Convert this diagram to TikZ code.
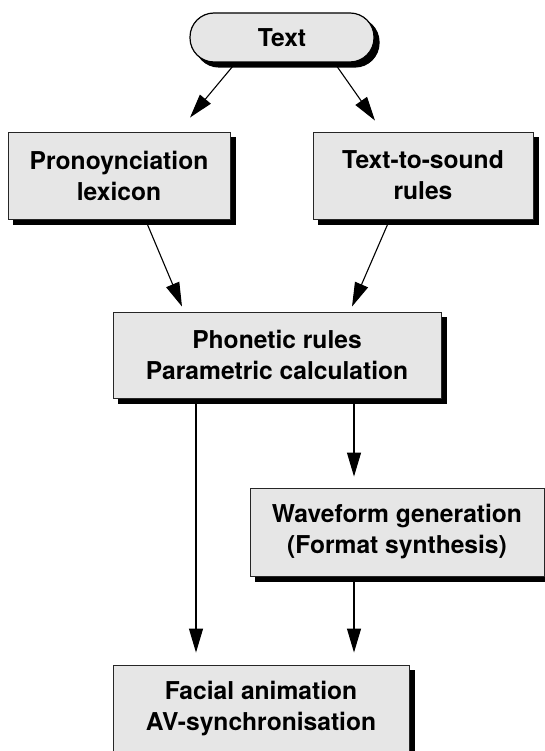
\documentclass[tikz,border=0pt]{standalone}
\usepackage{fontspec}
\setmainfont{TeX Gyre Heros}
\usetikzlibrary{arrows.meta,calc}
\definecolor{boxfill}{HTML}{E6E6E6}
\begin{document}
\begin{tikzpicture}[x=1pt,y=-1pt,
  boxbase/.style={draw=black!85,line width=0.9pt,fill=boxfill,
    align=center,inner sep=0pt,
    font=\fontsize{24.6}{31}\selectfont\bfseries,
    preaction={fill=black,draw=black,transform canvas={xshift=5pt,yshift=-5pt}}},
  stepbox/.style={boxbase,rectangle},
  pillbox/.style={boxbase,rounded corners=24pt,line width=1.2pt,draw=black},
  arr/.style={line width=1.1pt,-{Triangle[length=24pt,width=14pt]}}]
\useasboundingbox (0,0) rectangle (545,751);
\clip (0,0) rectangle (545,751);
\fill[white] (0,0) rectangle (545,751);
\node[pillbox,minimum width=184pt,minimum height=49pt] (txt) at (282,37.5) {Text};
\node[stepbox,minimum width=222pt,minimum height=87pt] (pron) at (119,175.5) {Pronoynciation\\lexicon};
\node[stepbox,minimum width=220pt,minimum height=87pt] (tts) at (423,175.5) {Text-to-sound\\rules};
\node[stepbox,minimum width=328pt,minimum height=86pt] (phon) at (277,355) {Phonetic rules\\Parametric calculation};
\node[stepbox,minimum width=294pt,minimum height=88pt] (wave) at (397,532) {Waveform generation\\(Format synthesis)};
\node[stepbox,minimum width=296pt,minimum height=88pt] (face) at (261,709) {Facial animation\\AV-synchronisation};
% connectors
\draw[arr] ([xshift=-47pt,yshift=-1pt]txt.south) -- ([xshift=71pt,yshift=14pt]pron.north);
\draw[arr] ([xshift=53pt,yshift=-1pt]txt.south) -- ([xshift=-48pt,yshift=11pt]tts.north);
\draw[arr] ([xshift=28pt,yshift=-4pt]pron.south) -- ([xshift=-95pt,yshift=5pt]phon.north);
\draw[arr] ([xshift=-35pt,yshift=-4pt]tts.south) -- ([xshift=75pt,yshift=5pt]phon.north);
\draw[arr] ([xshift=-81pt,yshift=-5pt]phon.south) -- ([xshift=-65pt,yshift=12pt]face.north);
\draw[arr] ([xshift=77pt,yshift=-5pt]phon.south) -- ([xshift=-43pt,yshift=11pt]wave.north);
\draw[arr] ([xshift=-43pt,yshift=-5pt]wave.south) -- ([xshift=93pt,yshift=12pt]face.north);
\end{tikzpicture}
\end{document}
